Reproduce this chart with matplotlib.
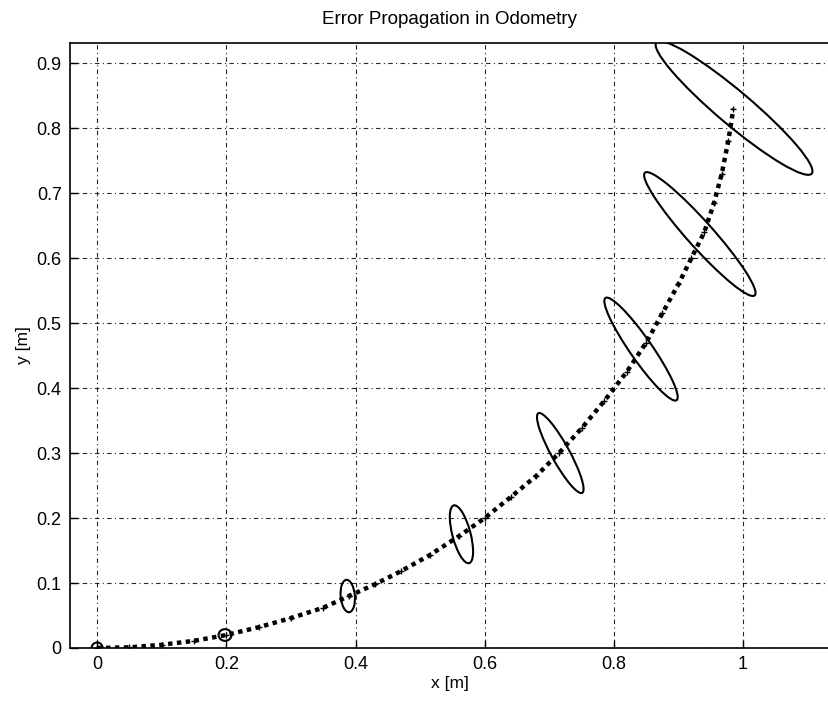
import matplotlib
matplotlib.use("Agg")
import matplotlib.pyplot as plt
from matplotlib.patches import Ellipse

# trajectory points
traj_x = [0.0, 0.05, 0.10, 0.15, 0.20, 0.25, 0.30, 0.35, 0.39, 0.43, 0.47, 0.515, 0.56,
          0.60, 0.64, 0.68, 0.715, 0.75, 0.785, 0.82, 0.85, 0.875, 0.90, 0.92, 0.94,
          0.955, 0.967, 0.977, 0.985]
traj_y = [0.0, 0.001, 0.005, 0.011, 0.020, 0.032, 0.046, 0.062, 0.080, 0.098, 0.118, 0.143, 0.172,
          0.200, 0.232, 0.265, 0.300, 0.338, 0.380, 0.425, 0.470, 0.515, 0.560, 0.600, 0.640,
          0.685, 0.730, 0.780, 0.830]

# uncertainty ellipses: centre, full major/minor axis lengths, angle (deg)
ell_x = [0.0, 0.198, 0.388, 0.564, 0.717, 0.842, 0.933, 0.986]
ell_y = [0.0, 0.020, 0.080, 0.175, 0.300, 0.460, 0.637, 0.831]
ell_major = [0.017, 0.020, 0.050, 0.092, 0.140, 0.192, 0.254, 0.314]
ell_minor = [0.017, 0.018, 0.022, 0.028, 0.028, 0.034, 0.040, 0.052]
ell_angle = [0, 0, 95, 105, 119, 125, 132, 140]

x_ticks = [0, 0.2, 0.4, 0.6, 0.8, 1.0]
x_ticklabels = ["0", "0.2", "0.4", "0.6", "0.8", "1"]
y_ticks = [0, 0.1, 0.2, 0.3, 0.4, 0.5, 0.6, 0.7, 0.8, 0.9]
y_ticklabels = ["0", "0.1", "0.2", "0.3", "0.4", "0.5", "0.6", "0.7", "0.8", "0.9"]

plt.rcParams['font.family'] = ['Liberation Sans', 'DejaVu Sans']

W, H = 829, 702
fig = plt.figure(figsize=(W / 100, H / 100), dpi=100)
left, right, top, bottom = 70, 829, 43, 648
ax = fig.add_axes([left / W, 1 - bottom / H, (right - left) / W, (bottom - top) / H])

ax.plot(traj_x, traj_y, color='black', linestyle=(0, (1, 1.0)), linewidth=3.2)
ax.plot(traj_x, traj_y, color='black', linestyle='none', marker='+', markersize=4, markeredgewidth=1.0)

for cx, cy, a, b, ang in zip(ell_x, ell_y, ell_major, ell_minor, ell_angle):
    ax.add_patch(Ellipse((cx, cy), a, b, angle=ang, fill=False, edgecolor='black', linewidth=1.5))

ax.set_xlim(-0.042, 1.133)
ax.set_ylim(0, 0.931)
ax.set_xticks(x_ticks)
ax.set_xticklabels(x_ticklabels)
ax.set_yticks(y_ticks)
ax.set_yticklabels(y_ticklabels)
ax.tick_params(direction='in', length=6, width=1, labelsize=13, colors='black', pad=6)
ax.grid(True, color='black', linestyle=(0, (4, 3, 1, 3)), linewidth=0.8, alpha=0.85)
for s in ['left', 'bottom', 'top']:
    ax.spines[s].set_linewidth(1.2)
ax.spines['right'].set_visible(False)

ax.set_title("Error Propagation in Odometry", fontsize=13.5, pad=14)
ax.set_xlabel("x [m]", fontsize=12.5, labelpad=2)
ax.set_ylabel("y [m]", fontsize=12.5, labelpad=4)

fig.savefig("out.png", dpi=100)
